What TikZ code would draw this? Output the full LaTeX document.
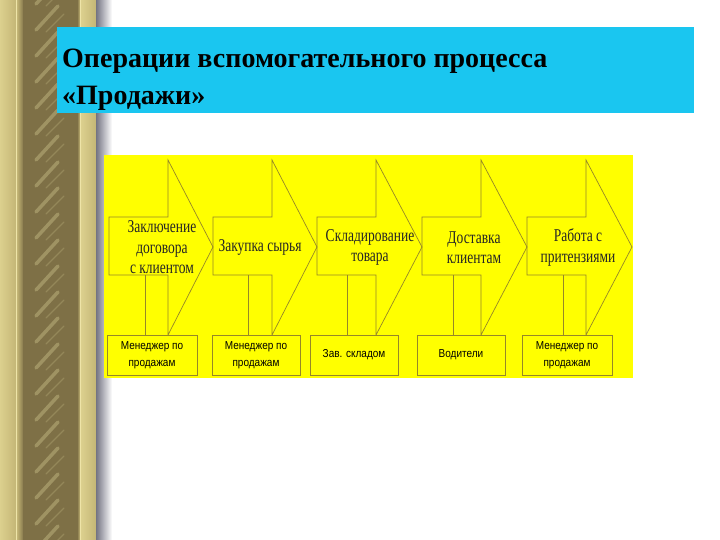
\documentclass[tikz,border=0pt]{standalone}
\usepackage{fontspec}
\setmainfont{Liberation Serif}
\newfontfamily\arrowfont[FakeStretch=0.75]{Liberation Serif}
\newfontfamily\boxfont[FakeStretch=0.87]{Liberation Sans}
\definecolor{khaki}{RGB}{220,208,142}
\definecolor{khakimid}{RGB}{196,182,118}
\definecolor{khakidark}{RGB}{126,112,70}
\definecolor{ropelight}{RGB}{208,194,130}
\definecolor{khakilight}{RGB}{238,228,168}
\definecolor{titlecyan}{RGB}{26,198,240}
\definecolor{procyellow}{RGB}{255,255,0}
\definecolor{olive}{RGB}{150,135,40}
\tikzset{
  shapeline/.style={draw=olive, line width=0.7pt},
  atext/.style={font=\arrowfont\fontsize{18}{20.5}\selectfont, text=black!85, align=center, inner sep=0pt},
  pbox/.style={draw=olive, line width=0.7pt, fill=procyellow, minimum height=40pt,
     font=\boxfont\fontsize{11.5}{17}\selectfont, align=center, inner sep=0pt},
  titlebox/.style={fill=titlecyan, minimum width=637pt, minimum height=86pt, inner sep=0pt},
  titletext/.style={font=\bfseries\fontsize{28}{37}\selectfont, align=left, inner sep=0pt, anchor=north west}
}
\begin{document}
\begin{tikzpicture}[x=1pt,y=-1pt]
\useasboundingbox (0,0) rectangle (720,540);
\fill[white] (0,0) rectangle (720,540);
% decorative column
\shade[left color=khaki, right color=khakimid] (0,0) rectangle (16,540);
\shade[left color=khakimid, right color=khakidark] (17,0) rectangle (24,540);
\shade[left color=khakidark, middle color=ropelight, right color=khakidark] (23,0) rectangle (78,540);
\shade[left color=khakidark, right color=khakimid] (77,0) rectangle (80,540);
\draw[khakilight, line width=1pt] (16.5,0) -- (16.5,540);
\draw[khakilight, line width=1pt] (80.5,0) -- (80.5,540);
\shade[left color=khaki, right color=khakimid] (81,0) rectangle (96,540);
\foreach \yy in {-20,6,...,560} {
  \draw[khakilight, opacity=0.3, line width=3.5pt, line cap=round] (36,\yy+24) -- (58,\yy);
  \draw[khakilight, opacity=0.2, line width=1.2pt, line cap=round] (46,\yy+26) -- (64,\yy+8);
}
\shade[left color=black!40!blue!10!gray, right color=white] (96,0) rectangle (112,540);
% title
\node[titlebox] (title) at (375.5,70) {};
\node[titletext] (titlelabel) at (62,49) {Операции вспомогательного процесса\\«Продажи»};
% process area
\fill[procyellow] (104,155) rectangle (633,378);
% arrows
\foreach \L/\T/\S [count=\i] in {109/213/145, 213/317/248, 317/422/347, 422/527/453, 527/632/563} {
  \pgfmathsetmacro{\B}{\L+59}
  \draw[shapeline, line join=miter] (\L,217) -- (\B,217) -- (\B,160) -- (\T,247) -- (\B,335) -- (\B,275) -- (\L,275) -- cycle;
  \coordinate (stemtop\i) at (\S,275);
  \coordinate (stemend\i) at (\S,335);
  \draw[shapeline] (stemtop\i) -- (stemend\i);
}
\node[atext] (a1) at (162,247.5) {Заключение\\договора\\с клиентом};
\node[atext] (a2) at (260,247.5) {Закупка сырья};
\node[atext] (a3) at (370,247.5) {Складирование\\товара};
\node[atext] (a4) at (474,247.5) {Доставка\\клиентам};
\node[atext] (a5) at (578,247.5) {Работа с\\притензиями};
% role boxes
\node[pbox, minimum width=90pt] (b1) at (152,355) {Менеджер по\\продажам};
\node[pbox, minimum width=88pt] (b2) at (256,355) {Менеджер по\\продажам};
\node[pbox, minimum width=88pt] (b3) at (354,355) {Зав. складом};
\node[pbox, minimum width=88pt] (b4) at (461,355) {Водители};
\node[pbox, minimum width=90pt] (b5) at (567,355) {Менеджер по\\продажам};
\end{tikzpicture}
\end{document}
